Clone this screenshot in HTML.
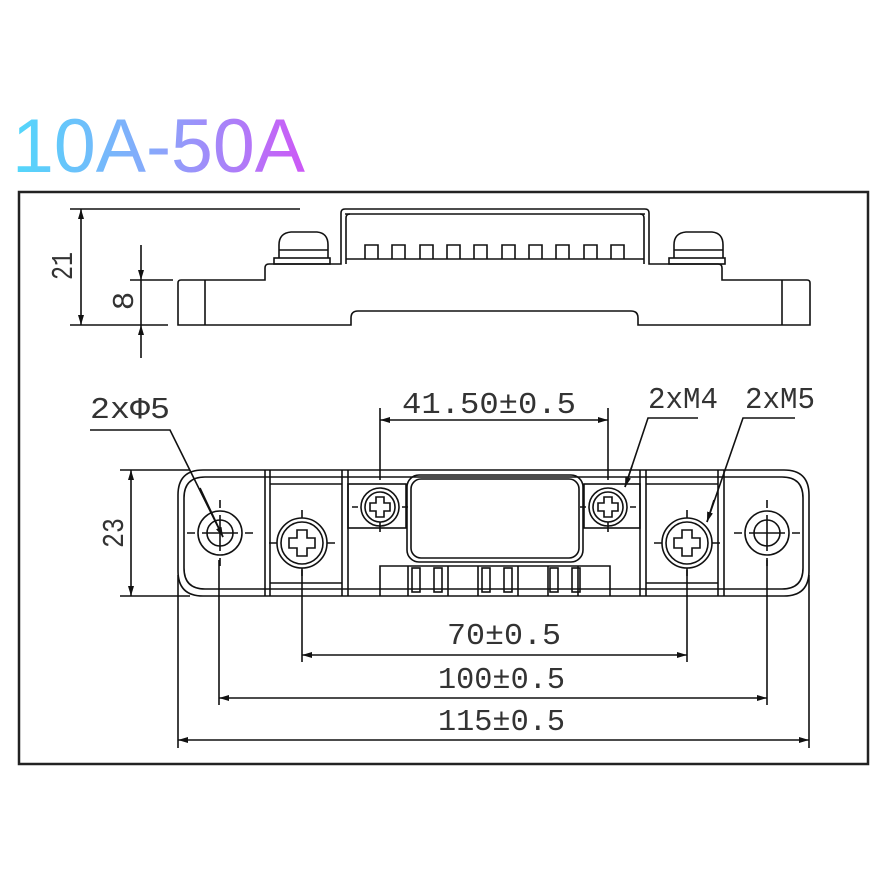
<!DOCTYPE html>
<html><head><meta charset="utf-8"><style>
html,body{margin:0;padding:0;background:#fff;width:894px;height:894px;overflow:hidden}
svg{display:block}
.t{font-family:"Liberation Mono",monospace;font-size:31px;fill:#333}
</style></head><body>
<svg width="894" height="894" viewBox="0 0 894 894" xmlns="http://www.w3.org/2000/svg">
<defs>
<linearGradient id="g" x1="0" x2="1" y1="0" y2="0">
<stop offset="0" stop-color="#52d8fb"/><stop offset="0.5" stop-color="#8aa6fb"/><stop offset="1" stop-color="#cd58f6"/>
</linearGradient>
<marker id="a" viewBox="0 0 10 6" refX="10" refY="3" markerWidth="10" markerHeight="6" orient="auto-start-reverse" markerUnits="userSpaceOnUse">
<path d="M0,0 L10,3 L0,6 z" fill="#111"/></marker>
</defs>
<text x="12" y="172" font-family="Liberation Sans,sans-serif" font-size="76" fill="url(#g)" textLength="293" lengthAdjust="spacingAndGlyphs">10A-50A</text>
<rect x="19" y="192" width="849" height="572" fill="none" stroke="#222" stroke-width="2.5"/>

<g fill="none" stroke="#111" stroke-width="1.6">
<line x1="70" y1="209" x2="300" y2="209"/>
<line x1="70" y1="325" x2="168" y2="325"/>
<line x1="81" y1="209" x2="81" y2="325" marker-start="url(#a)" marker-end="url(#a)"/>
<line x1="130" y1="280" x2="173" y2="280"/>
<line x1="141" y1="245" x2="141" y2="280" marker-end="url(#a)"/>
<line x1="141" y1="358" x2="141" y2="325" marker-end="url(#a)"/>
<line x1="141" y1="280" x2="141" y2="325"/>
<path d="M178,325 V283 Q178,280 181,280 H265 V268 Q265,264 269,264 H341 V213 Q341,209 345,209 H645 Q649,209 649,213 V264 H718 Q722,264 722,268 V280 H807 Q810,280 810,283 V325 H638 V318 Q638,311 631,311 H358 Q351,311 351,318 V325 Z"/>
<line x1="205" y1="280" x2="205" y2="325"/><line x1="782" y1="280" x2="782" y2="325"/>
<line x1="345" y1="214" x2="645" y2="214"/>
<path d="M346,264 V218 Q346,214 350,214 M644,264 V218 Q644,214 640,214"/>
<line x1="346" y1="259" x2="644" y2="259"/>
<path d="M365,259 V245 H378 V259 M392,259 V245 H405 V259 M420,259 V245 H433 V259 M447,259 V245 H460 V259 M474,259 V245 H487 V259 M502,259 V245 H515 V259 M529,259 V245 H542 V259 M556,259 V245 H569 V259 M584,259 V245 H597 V259 M611,259 V245 H624 V259"/>
<rect x="274" y="258" width="56" height="6"/>
<path d="M279,258 V245 Q279,233 291,232 H317 Q328,233 328,245 V258 M279,250 H328"/>
<rect x="669" y="258" width="56" height="6"/>
<path d="M674,258 V245 Q674,233 686,232 H712 Q723,233 723,245 V258 M674,250 H723"/>

<path d="M203,470 H784 Q809,470 809,495 V571 Q809,596 784,596 H203 Q178,596 178,571 V495 Q178,470 203,470 Z"/>
<path d="M205,477 H782 Q803,477 803,498 V568 Q803,589 782,589 H205 Q184,589 184,568 V498 Q184,477 205,477 Z"/>
<line x1="265" y1="470" x2="265" y2="596"/><line x1="270" y1="470" x2="270" y2="596"/>
<line x1="342" y1="470" x2="342" y2="596"/><line x1="348" y1="470" x2="348" y2="596"/>
<line x1="640" y1="470" x2="640" y2="596"/><line x1="646" y1="470" x2="646" y2="596"/>
<line x1="718" y1="470" x2="718" y2="596"/><line x1="724" y1="470" x2="724" y2="596"/>
<line x1="270" y1="484" x2="342" y2="484"/><line x1="270" y1="583" x2="342" y2="583"/>
<line x1="646" y1="484" x2="718" y2="484"/><line x1="646" y1="583" x2="718" y2="583"/>
<rect x="348" y="484" width="58" height="44"/><rect x="584" y="484" width="56" height="44"/>
<rect x="407" y="475" width="176" height="87" rx="12"/>
<rect x="411" y="479" width="168" height="79" rx="10"/>
<circle cx="220" cy="533" r="22"/><circle cx="220" cy="533" r="13"/>
<circle cx="767" cy="533" r="22"/><circle cx="767" cy="533" r="13"/>
<path d="M220,500 V508 M220,515 V551 M220,558 V566 M187,533 H195 M202,533 H238 M245,533 H253"/>
<path d="M767,500 V508 M767,515 V551 M767,558 V566 M734,533 H742 M749,533 H785 M792,533 H800"/>
<g>
<circle cx="302" cy="543" r="25"/><circle cx="302" cy="543" r="21"/>
<path d="M297,530 H307 V538 H315 V548 H307 V556 H297 V548 H289 V538 H297 Z"/>
<path d="M302,510 V518 M302,568 V576 M269,543 H277 M327,543 H335"/>
</g>
<g>
<circle cx="687" cy="543" r="25"/><circle cx="687" cy="543" r="21"/>
<path d="M682,530 H692 V538 H700 V548 H692 V556 H682 V548 H674 V538 H682 Z"/>
<path d="M687,510 V518 M687,568 V576 M654,543 H662 M712,543 H720"/>
</g>
<g>
<circle cx="380" cy="507" r="19"/><circle cx="380" cy="507" r="15"/>
<path d="M376,497 H384 V503 H390 V511 H384 V517 H376 V511 H370 V503 H376 Z"/>
<path d="M352,507 H358 M402,507 H408 M380,522 V532"/>
</g>
<g>
<circle cx="608" cy="507" r="19"/><circle cx="608" cy="507" r="15"/>
<path d="M604,497 H612 V503 H618 V511 H612 V517 H604 V511 H598 V503 H604 Z"/>
<path d="M580,507 H586 M630,507 H636 M608,522 V532"/>
</g>
<path d="M380,596 V566 H610 V596 M408,566 V596 M448,566 V596 M478,566 V596 M518,566 V596 M548,566 V596 M578,566 V596"/>
<rect x="412" y="568" width="8" height="24"/><rect x="434" y="568" width="8" height="24"/>
<rect x="482" y="568" width="8" height="24"/><rect x="504" y="568" width="8" height="24"/>
<rect x="550" y="568" width="8" height="24"/><rect x="572" y="568" width="8" height="24"/>

<line x1="380" y1="408" x2="380" y2="480"/><line x1="608" y1="408" x2="608" y2="480"/>
<line x1="380" y1="420" x2="608" y2="420" marker-start="url(#a)" marker-end="url(#a)"/>
<line x1="120" y1="470" x2="190" y2="470"/><line x1="120" y1="596" x2="190" y2="596"/>
<line x1="131" y1="470" x2="131" y2="596" marker-start="url(#a)" marker-end="url(#a)"/>
<line x1="302" y1="570" x2="302" y2="662"/><line x1="687" y1="570" x2="687" y2="662"/>
<line x1="302" y1="655" x2="687" y2="655" marker-start="url(#a)" marker-end="url(#a)"/>
<line x1="219" y1="560" x2="219" y2="705"/><line x1="767" y1="560" x2="767" y2="705"/>
<line x1="219" y1="698" x2="767" y2="698" marker-start="url(#a)" marker-end="url(#a)"/>
<line x1="178" y1="575" x2="178" y2="748"/><line x1="809" y1="575" x2="809" y2="748"/>
<line x1="178" y1="740" x2="809" y2="740" marker-start="url(#a)" marker-end="url(#a)"/>
<polyline points="90,430 170,430 223,537" />
<line x1="200" y1="488" x2="223" y2="537" marker-end="url(#a)"/>
<polyline points="698,418 648,418 625,487"/>
<line x1="632" y1="466" x2="625" y2="487" marker-end="url(#a)"/>
<polyline points="795,418 743,418 707,522"/>
<line x1="714" y1="500" x2="707" y2="522" marker-end="url(#a)"/>
</g>

<g class="t">
<text x="90" y="418" textLength="80" lengthAdjust="spacingAndGlyphs">2xΦ5</text>
<text x="648" y="408" textLength="70" lengthAdjust="spacingAndGlyphs">2xM4</text>
<text x="745" y="408" textLength="70" lengthAdjust="spacingAndGlyphs">2xM5</text>
<text x="402" y="413" textLength="174" lengthAdjust="spacingAndGlyphs">41.50±0.5</text>
<text x="447" y="644" textLength="114" lengthAdjust="spacingAndGlyphs">70±0.5</text>
<text x="438" y="688" textLength="127" lengthAdjust="spacingAndGlyphs">100±0.5</text>
<text x="438" y="730" textLength="127" lengthAdjust="spacingAndGlyphs">115±0.5</text>
<text transform="translate(72,266) rotate(-90)" text-anchor="middle" textLength="28" lengthAdjust="spacingAndGlyphs">21</text>
<text transform="translate(133,301) rotate(-90)" text-anchor="middle">8</text>
<text transform="translate(123,533) rotate(-90)" text-anchor="middle" textLength="30" lengthAdjust="spacingAndGlyphs">23</text>
</g>
</svg>
</body></html>
